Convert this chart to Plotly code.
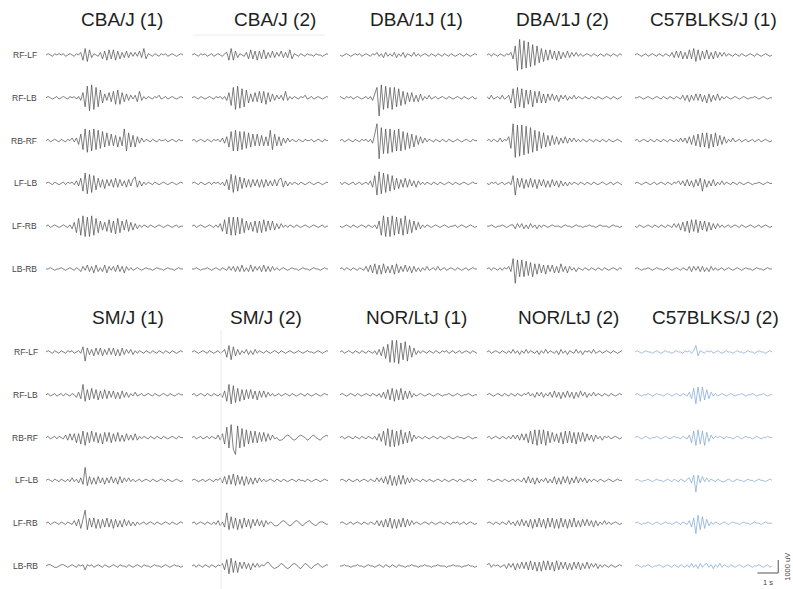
import plotly.graph_objects as go

# ---------------- data ----------------
CHANNELS = ["RF-LF", "RF-LB", "RB-RF", "LF-LB", "LF-RB", "LB-RB"]
TOP_TITLES = ["CBA/J (1)", "CBA/J (2)", "DBA/1J (1)", "DBA/1J (2)", "C57BLKS/J (1)"]
BOTTOM_TITLES = ["SM/J (1)", "SM/J (2)", "NOR/LtJ (1)", "NOR/LtJ (2)", "C57BLKS/J (2)"]
DURATION_S = 6.6          # length of each trace
UNIT_UV = 100             # trace values below are in units of 100 uV
SCALE_T_S = 1
SCALE_V_UV = 1000

cba_j_1 = [
    [0,1,0,-1,1,0,1,0, 1,-1,0,1,0,-1,1,0, 2,-4,5,-5,4,-2,1,0, -1,2,-3,3,-4,4,-3,4, -4,3,-3,2,-2,3,-2,2, -1,2,-1,3,-2,5,-3,1, 0,-1,1,0,-1,1,0,1, -1,0,1,0,-1,0,1,0],
    [0,1,0,-1,0,1,-1,0, 1,0,-1,1,0,1,-1,1, -2,4,-7,9,-10,10,-9,8, -7,6,-4,3,-2,4,-3,5, -5,6,-5,4,-3,3,-2,2, -1,2,-3,5,-2,1,-1,1, 0,-1,1,0,2,-1,0,1, -1,0,1,0,-1,0,1,0],
    [0,1,-1,0,1,0,-1,1, 0,-1,1,0,2,-1,2,-3, 5,-7,9,-9,8,-8,9,-7, 8,-6,7,-5,6,-4,5,-4, 4,-5,3,-4,9,-8,6,-5, 4,-5,3,-2,2,-1,1,0, -1,1,0,-1,1,0,0,1, -1,0,1,0,-1,1,0,0],
    [0,1,0,-1,1,0,-1,0, 1,-1,1,0,1,-1,2,-2, 4,-6,8,-8,7,-7,6,-5, 4,-3,3,-4,3,-2,3,-3, 4,-3,3,-2,2,-3,3,-2, 3,5,-3,2,-2,1,-1,1, 0,-1,1,0,-1,0,1,0, -1,0,1,0,-1,0,1,0],
    [0,1,-1,0,1,0,-1,0, 1,0,-1,1,-2,3,-5,6, -7,8,-8,7,-8,8,-7,6, -5,4,-3,3,-4,5,-5,4, -6,6,-5,4,-3,5,-4,3, -3,2,-2,1,-1,1,0,-1, 1,0,-1,0,1,0,-1,0, 1,0,-1,0,1,-1,0,0],
    [0,0,1,0,-1,0,0,1, 0,-1,0,1,0,-1,1,0, -2,2,-1,3,-2,2,-3,3, -2,1,-2,3,-3,2,-1,2, -2,3,-2,2,-3,2,-1,1, -1,0,1,0,-1,0,1,0, 0,-1,0,1,0,0,-1,0, 1,0,0,-1,0,1,0,0],
]
cba_j_2 = [
    [0,1,0,-1,1,0,1,-1, 0,1,-1,0,1,0,-1,1, 2,-4,5,-4,3,-2,1,0, -1,2,-3,4,-3,3,-4,3, -3,4,-3,2,-2,3,-2,2, -1,3,-2,2,-2,4,-3,1, 0,-1,1,0,-1,1,0,0, -1,1,0,0,-1,0,1,0],
    [0,1,0,-1,1,0,-1,0, 1,0,-1,1,0,1,-1,1, -2,4,-6,8,-9,9,-8,7, -7,6,-4,3,-3,4,-3,5, -4,5,-5,4,-3,3,-2,2, -1,2,-2,5,-2,1,-1,1, 0,-1,1,0,2,-1,0,1, -1,0,1,0,-1,0,1,0],
    [0,1,-1,0,1,0,-1,1, 0,-1,1,0,1,-1,2,-2, 3,-5,7,-8,8,-8,7,-7, 7,-6,6,-5,5,-4,5,-4, 4,-4,3,-4,8,-7,5,-4, 3,-4,2,-2,2,-1,1,0, -1,1,0,-1,1,0,0,1, -1,0,1,0,-1,1,0,0],
    [0,1,0,-1,1,0,-1,0, 1,-1,1,0,1,-1,1,-2, 3,-5,7,-7,6,-6,5,-4, 4,-3,3,-3,3,-2,3,-3, 3,-3,3,-2,2,-2,3,-2, 3,4,-3,2,-2,1,-1,1, 0,-1,1,0,-1,0,1,0, -1,0,1,0,-1,0,1,0],
    [0,1,-1,0,1,0,-1,0, 1,0,-1,1,-1,2,-4,5, -6,7,-7,7,-7,7,-6,6, -5,4,-3,3,-4,4,-5,4, -5,5,-4,4,-3,4,-3,2, -2,2,-1,1,-1,1,0,-1, 1,0,-1,0,1,0,-1,0, 1,0,-1,0,1,-1,0,0],
    [0,0,1,0,-1,0,0,1, 0,-1,0,1,0,-1,1,0, -1,2,-1,2,-2,2,-2,3, -2,1,-2,3,-2,2,-1,2, -2,3,-2,2,-2,2,-1,1, -1,0,1,0,-1,0,1,0, 0,-1,0,1,0,0,-1,0, 1,0,0,-1,0,1,0,0],
]
dba_1j_1 = [
    [0,-1,0,1,0,-1,0,1, 0,1,-1,0,1,0,-1,1, 0,2,-1,1,-2,2,-1,1, -1,2,-2,1,-1,2,-2,1, 0,-1,2,-1,1,-1,0,1, 0,-1,1,0,-1,1,0,-1, 1,0,-1,1,0,-1,0,1, 0,-1,1,0,-1,0,1,0],
    [1,0,-1,1,0,1,-1,0, 1,0,-1,0,1,-1,1,-2, 4,8,-14,10,-9,9,-8,8, -9,8,-7,7,-6,5,-5,4, -3,4,-3,2,-3,3,-2,1, -1,2,-1,0,1,-1,0,1, 0,-1,1,0,-1,0,1,0, -1,1,0,-1,0,1,-1,0],
    [0,1,-1,0,1,0,-1,1, 0,-1,1,0,1,-1,1,-2, 5,13,-14,10,-10,9,-10,9, -9,8,-8,9,-8,7,-7,6, -6,5,-5,4,-3,3,-2,2, -1,1,0,-1,1,0,-1,1, 0,-1,1,0,-1,0,1,0, -1,0,1,0,-1,1,0,0],
    [1,-1,1,0,-1,0,1,-1, 0,1,-1,0,1,-1,2,-3, 6,-9,9,-8,8,-7,7,-6, 6,-5,4,-4,3,-3,4,-3, 3,-2,2,-3,2,-1,1,-1, 1,0,-1,1,0,-1,1,0, -1,0,1,0,-1,1,0,-1, 0,1,0,-1,0,1,0,0],
    [0,-1,0,1,0,-1,1,0, -1,0,1,0,-1,1,0,-1, 1,-2,4,-7,8,-8,7,-8, 8,-7,7,-6,6,-7,8,-6, 5,-5,4,-3,3,-2,1,-1, 1,0,-1,0,1,0,-1,0, 1,0,-1,0,0,1,-1,0, 1,0,-1,0,1,0,-1,0],
    [0,1,-1,1,0,-1,1,0, -1,1,0,-1,2,-2,3,-3, 4,-4,3,-4,4,-3,2,-3, 3,-4,4,-3,2,-2,3,-2, 2,-3,2,-2,1,-2,1,-1, 2,-1,0,1,-1,2,-1,0, 1,-1,0,1,0,-1,1,0, -1,0,1,-1,0,1,0,0],
]
dba_1j_2 = [
    [0,1,-1,1,0,-1,1,0, -1,1,0,2,-3,7,-12,12, -11,11,-10,10,-9,8,-8,7, -6,5,-5,4,-4,4,-3,3, -4,3,-3,2,-2,3,-2,2, -1,2,-1,1,-1,0,1,0, -1,1,0,-1,1,0,-1,1, 0,-1,1,0,-1,1,0,0],
    [1,-1,2,-1,0,1,-1,2, -1,0,2,-4,7,-8,8,-7, 7,-8,6,-5,6,-7,5,-4, 5,-4,3,-4,3,-2,3,-2, 2,-3,2,-1,2,-2,1,-1, 2,-1,1,0,-1,1,0,-1, 1,0,-1,1,0,-1,0,1, 0,-1,1,0,-1,0,1,0],
    [0,1,-1,1,0,-1,2,-1, 1,0,3,-6,13,-13,12,-12, 12,-11,11,-10,10,-9,8,-8, 7,-6,6,-5,4,-4,4,-3, 3,-3,2,-2,3,-2,2,-1, 2,-1,1,-1,1,0,-1,1, 0,-1,1,0,-1,1,0,-1, 1,0,-1,0,1,0,-1,0],
    [0,-1,1,0,1,-1,0,1, -1,0,1,-1,6,-9,4,-3, 4,-4,3,-3,4,-3,3,-4, 3,-2,3,-3,2,-3,3,-2, 2,-3,2,-2,1,-2,1,-1, 1,0,-1,1,0,-1,1,0, -1,1,0,-1,0,1,0,-1, 0,1,-1,0,1,0,-1,0],
    [0,0,1,0,-1,0,0,1, 0,-1,0,1,1,-2,2,-1, 2,-2,1,-2,2,-1,1,-2, 1,-1,1,0,-1,0,1,0, 0,0,-1,0,1,0,0,-1, 0,1,0,0,-1,0,0,1, 0,0,-1,0,1,0,0,0, -1,0,1,0,0,-1,0,1],
    [0,1,-1,1,0,-1,1,-1, 1,0,2,-2,8,-11,7,-6, 7,-6,6,-5,5,-6,4,-4, 4,-3,3,-4,3,-2,3,-3, 2,-3,4,-2,2,-3,2,-1, 1,-2,1,0,-1,1,0,-1, 1,0,-1,1,0,-1,1,0, -1,0,1,0,-1,1,0,0],
]
c57blks_j_1 = [
    [0,1,0,-1,0,1,-1,0, 1,0,-1,1,0,-1,1,0, -1,2,-2,3,-2,3,-3,2, -3,4,-3,5,-5,4,-4,3, -3,4,-3,2,-3,3,-2,2, -1,2,-1,1,0,-1,1,0, -1,1,0,-1,0,1,0,-1, 1,0,-1,0,1,0,-1,0],
    [0,0,1,0,-1,0,1,0, -1,0,1,0,-1,1,0,-1, 1,0,-1,1,0,-1,2,-2, 2,-3,2,-2,3,-2,3,-3, 2,-4,3,-3,2,-2,3,-2, 1,-1,1,0,-1,0,1,0, -1,0,1,0,-1,0,0,1, 0,-1,0,1,0,-1,0,0],
    [0,1,-1,0,1,0,-1,1, 0,-1,1,0,-1,1,0,-1, 1,0,-1,1,-1,2,-1,2, -2,3,-3,4,-4,5,-5,6, -5,6,-6,5,-5,6,-4,4, -3,3,-2,1,-1,2,-1,0, 1,-1,0,1,-1,0,1,-1, 0,1,-1,0,1,0,-1,0],
    [0,1,0,-1,0,1,0,-1, 0,1,-1,0,1,0,-1,1, 0,-1,1,0,2,-1,2,-2, 3,-2,2,-3,3,-2,4,-6, 3,-3,2,-2,3,-2,1,-1, 2,-1,1,0,-1,1,0,-1, 1,0,-1,0,1,0,-1,0, 0,1,0,-1,0,1,0,0],
    [0,-1,1,0,-1,0,1,0, -1,1,0,-1,1,0,-1,1, 0,-1,2,-1,2,-3,3,-4, 4,-5,5,-4,5,-5,4,-3, 4,-4,3,-3,2,-2,2,-1, 1,-1,0,1,-1,0,1,0, -1,1,0,-1,0,1,0,-1, 0,1,-1,0,1,0,-1,0],
    [0,1,0,-1,0,0,1,0, -1,0,1,0,0,-1,0,1, 0,-1,0,1,0,-1,1,0, -1,2,-2,2,-1,2,-2,2, -2,1,-2,2,-1,1,-1,0, 1,-1,0,1,0,-1,0,1, 0,-1,0,1,0,0,-1,0, 1,0,0,-1,0,1,0,0],
]
sm_j_1 = [
    [0,1,0,-1,1,0,-1,1, 0,-1,1,0,1,-1,0,1, -1,4,-7,3,-2,2,-3,3, -2,3,-3,2,-2,3,-2,3, -3,2,-3,3,-2,2,-1,2, -2,1,-1,1,0,-1,1,0, -1,1,0,-1,1,0,-1,1, 0,-1,1,0,-1,0,1,0],
    [0,1,-1,0,1,-1,0,1, -1,1,0,-1,1,0,-2,2, -3,8,-5,4,-4,5,-3,4, -4,3,-3,4,-3,3,-2,3, -3,2,-3,3,-2,2,-2,1, -1,2,-1,0,1,-1,0,1, 0,-1,1,0,-1,0,1,0, -1,1,0,-1,0,1,0,0],
    [0,1,-1,0,1,-1,1,0, -1,2,-2,3,-2,3,-4,3, -5,5,-6,4,-4,5,-3,4, -4,3,-5,4,-3,4,-4,3, -3,4,-3,2,-3,3,-2,2, -2,3,-2,1,-1,1,0,-1, 1,0,-1,1,0,-1,1,0, -1,0,1,0,-1,1,0,0],
    [0,1,0,-1,1,0,-1,1, 0,-1,1,-1,2,-1,1,-2, 2,-3,10,-4,3,-3,2,-3, 3,-2,2,-3,2,-2,3,-2, 2,-3,3,-2,2,-1,2,-1, 1,-1,0,1,-1,0,1,0, -1,1,0,-1,0,1,0,-1, 1,0,-1,0,1,0,-1,0],
    [0,1,-1,0,1,0,-1,1, 0,-1,1,0,-1,2,-2,3, -4,3,10,-5,4,-3,4,-4, 3,-4,3,-3,4,-3,3,-4, 3,-3,2,-3,3,-2,2,-2, 1,-2,1,-1,0,1,-1,0, 1,0,-1,1,0,-1,0,1, 0,-1,1,0,-1,0,1,0],
    [0,1,1,0,-1,-1,0,1, 1,0,-1,0,1,0,-1,1, 0,1,-3,1,0,1,-1,0, 1,0,-1,1,0,-1,0,1, 0,-1,1,0,0,-1,1,0, -1,0,1,0,-1,1,0,0, -1,0,1,0,0,-1,0,1, 0,-1,0,1,0,0,-1,0],
]
sm_j_2 = [
    [0,1,0,-1,0,1,0,-1, 1,0,-1,0,1,-1,0,2, -4,5,-6,4,-3,2,-2,1, -1,2,-2,1,-2,2,-1,1, 0,-1,1,0,-1,0,1,0, -1,1,0,-1,0,1,0,-1, 0,1,0,-1,0,1,0,0, -1,0,1,0,-1,0,1,0],
    [0,1,-1,0,1,0,-1,1, 0,-1,1,0,-1,1,-2,3, -5,8,-7,7,-6,5,-5,4, -4,4,-3,4,-3,3,-4,3, -2,3,-2,2,-1,1,-1,0, 1,-1,0,1,0,-1,1,0, -1,0,1,0,-1,1,0,-1, 0,1,0,-1,0,1,0,0],
    [0,1,-1,0,1,-1,0,1, -1,1,0,-1,2,-2,3,-5, 8,-8,10,-9,-13,9,-8,7, -7,6,-5,5,-4,5,-4,4, -3,4,-3,3,-2,2,-1,0, -2,-2,-1,1,2,1,-1,-2, -1,1,2,1,0,-2,-1,1, 2,0,-1,-2,0,1,2,0],
    [0,1,0,-1,0,1,-1,0, 1,0,-1,1,0,2,-2,3, -3,4,-3,5,-4,4,-3,3, -4,3,-3,2,-3,2,-2,2, -1,1,-1,0,1,0,-1,1, 0,-1,1,0,-1,0,1,0, -1,1,0,0,-1,1,0,-1, 0,1,0,-1,0,1,0,0],
    [0,1,-1,0,1,0,-1,1, 0,-1,1,-1,2,-2,1,-3, 8,-5,5,-4,4,-5,3,-4, 4,-3,3,-4,3,-2,3,-2, 2,-3,2,-1,1,0,-2,-2, -1,1,2,1,-1,-2,-1,1, 2,1,-1,-2,0,1,2,0, -1,-2,0,1,1,0,-1,0],
    [0,1,-1,1,0,-1,1,0, -1,1,0,-1,1,0,2,-3, 5,-6,6,-5,4,-5,3,-2, 3,-2,2,-3,2,-1,2,-1, 1,0,2,3,1,-1,-2,-1, 0,2,1,-1,-2,-1,1,2, 1,-1,-2,0,2,1,-1,-2, 0,1,2,0,-1,0,1,0],
]
nor_ltj_1 = [
    [0,1,-1,0,1,0,-1,1, 0,-1,1,0,-1,1,0,-1, 1,-2,2,-3,4,-5,6,-8, 9,-8,9,-9,7,-6,8,-7, 5,-4,3,-2,1,-1,1,0, -1,1,0,-1,1,0,-1,1, 0,1,-1,0,1,-1,0,1, -1,0,1,0,-1,1,0,-1],
    [0,1,0,-1,0,1,0,-1, 1,0,-1,0,1,0,-1,1, 0,-1,1,-2,2,-3,4,-4, 5,-5,4,-4,5,-4,3,-3, 3,-2,1,-1,0,1,0,-1, 0,1,0,-1,0,1,0,-1, 0,0,1,0,-1,0,1,0, -1,0,0,1,0,-1,0,0],
    [0,1,-1,0,1,0,-1,1, 0,-1,1,0,-1,1,0,-1, 1,-2,3,-3,5,-6,7,-7, 6,-7,5,-6,6,-5,4,-4, 5,-3,2,-1,1,0,-1,1, 0,-1,0,1,0,-1,1,0, -1,0,1,0,-1,0,1,0, 0,-1,0,1,0,-1,0,0],
    [0,1,0,-1,1,0,-1,0, 1,-1,0,1,0,-1,1,0, -1,2,-1,2,-2,3,-3,4, -4,3,-4,4,-3,4,-3,2, -2,2,-1,1,0,-1,1,0, -1,1,0,-1,0,1,0,-1, 1,0,-1,0,1,0,-1,1, 0,-1,0,1,0,-1,1,0],
    [0,1,0,-1,0,1,-1,0, 1,0,-1,1,0,-1,1,0, -1,2,-2,2,-3,3,-3,4, -4,3,-4,3,-3,4,-3,3, -2,2,-1,1,0,-1,0,1, 0,-1,1,0,-1,0,1,0, -1,1,0,-1,1,0,1,-1, 0,1,-1,0,1,0,-1,0],
    [0,0,1,0,0,-1,0,0, 1,0,0,-1,0,1,0,0, -1,0,1,0,-1,1,0,-1, 1,0,-1,1,0,0,-1,0, 0,1,0,0,-1,0,0,1, 0,0,-1,0,0,1,0,0, 0,-1,0,0,1,0,0,0, -1,0,0,1,0,0,-1,0],
]
nor_ltj_2 = [
    [0,1,-1,0,1,0,-1,1, 0,-1,1,-1,2,-1,1,-2, 1,-1,2,-1,1,0,-1,1, -2,1,-1,2,-1,1,0,-1, 1,-2,2,-1,1,-2,1,0, -1,2,-1,1,-2,1,0,1, -1,2,-1,0,1,-1,0,1, 0,-1,1,0,-1,0,1,0],
    [0,1,0,-1,0,1,0,-1, 1,0,-1,1,0,-1,1,0, -1,1,0,2,-1,1,-2,2, -1,2,-2,1,-1,2,-2,3, -2,2,-3,2,-2,3,-2,2, -3,2,-2,3,-1,2,-2,1, -1,2,-1,1,0,-1,1,0, -1,1,0,-1,0,1,0,0],
    [0,1,-1,0,1,0,-1,1, 0,-1,1,-1,2,-1,2,-2, 3,-2,3,-4,5,-5,6,-6, 6,-5,6,-6,5,-4,4,-3, 3,-4,4,-5,5,-4,5,-4, 4,-5,4,-3,4,-3,3,-2, 2,-3,2,-1,1,-2,1,0, 1,-1,0,1,0,-1,0,0],
    [0,1,0,-1,0,1,0,-1, 1,0,-1,0,1,-1,1,0, -1,2,-2,3,-2,2,-3,2, -2,1,-1,2,-2,1,-2,3, -3,2,-3,3,-2,3,-3,2, -2,3,-2,2,-1,2,-2,1, -1,1,0,-1,1,0,-1,0, 1,0,-1,0,1,0,0,0],
    [0,1,0,-1,1,0,-1,1, 0,-1,2,-1,1,-2,2,-2, 3,-2,2,-3,3,-4,3,-3, 4,-3,3,-4,4,-3,4,-4, 3,-4,4,-3,3,-4,3,-3, 4,-3,2,-3,3,-2,3,-2, 2,-3,2,-2,1,-1,2,-1, 1,-1,0,1,0,-1,0,0],
    [1,2,-1,1,0,1,-1,0, 1,-2,2,-1,2,-3,2,-2, 3,-2,3,-3,4,-3,3,-4, 3,-4,4,-3,4,-3,3,-4, 4,-3,3,-2,3,-3,2,-3, 3,-2,3,-3,2,-2,3,-2, 2,-1,2,-2,1,-1,1,0, -1,1,0,-1,0,1,0,0],
]
c57blks_j_2 = [
    [0,1,0,-1,0,1,0,0, -1,0,1,0,-1,0,1,0, 0,-1,0,1,0,0,-1,1, 0,1,-1,1,5,-3,1,0, -1,1,0,1,-1,0,1,0, -1,0,1,0,0,-1,0,1, 0,0,-1,0,1,0,0,-1, 0,1,0,0,-1,0,1,0],
    [0,1,0,-1,0,0,1,0, -1,0,1,0,0,-1,0,1, 0,-1,0,1,0,-1,1,0, -1,2,-3,5,-7,6,-5,6, -4,4,-3,2,-1,1,-1,0, 1,0,-1,0,1,0,-1,0, 0,1,0,-1,0,0,1,0, -1,0,0,1,0,-1,0,0],
    [0,1,0,-1,0,1,0,-1, 0,0,1,0,-1,0,1,0, -1,0,1,0,0,-1,1,0, -1,2,-4,5,-6,6,-5,5, -6,4,-3,2,-1,1,0,1, 0,-1,1,0,0,-1,0,1, 0,-1,0,1,0,0,-1,0, 1,0,-1,0,0,1,0,0],
    [0,1,0,-1,0,0,1,0, -1,0,1,0,0,-1,0,1, 0,-1,1,0,-1,1,0,-1, 1,2,-2,4,-9,4,-2,3, -1,2,-1,1,0,-1,1,0, -1,-1,0,1,0,-1,0,1, 0,0,-1,0,1,0,0,-1, 0,1,0,0,-1,0,1,0],
    [0,1,0,-1,0,0,1,0, -1,0,1,0,-1,0,1,0, 0,-1,0,1,0,-1,1,0, -1,2,-3,4,-8,6,-5,5, -4,3,-2,1,-1,1,0,-1, 0,1,0,-1,0,1,0,0, -1,0,1,0,0,-1,0,1, 0,0,-1,0,1,0,0,0],
    [0,1,0,-1,0,0,1,0, -1,0,0,1,0,-1,0,1, 0,-1,1,0,-1,1,0,-1, 1,-1,2,-1,1,-2,2,-1, 1,2,-1,1,-2,1,-1,2, -1,1,0,-1,1,0,-1,0, 1,0,-1,0,1,0,-1,0, 0,1,0,-1,0,1,-1,0],
]

TOP_DATA = [cba_j_1, cba_j_2, dba_1j_1, dba_1j_2, c57blks_j_1]
BOTTOM_DATA = [sm_j_1, sm_j_2, nor_ltj_1, nor_ltj_2, c57blks_j_2]

# ---------------- layout geometry (pixels) ----------------
W, H = 793, 589
COL_PX = [(46, 183), (192, 328), (340, 477), (487, 622), (635, 772)]
PX_PER_S = 137 / DURATION_S
ROW_GAP_UV = 3300
PX_PER_UV = 42.8 / ROW_GAP_UV
ROW0_PX = [55, 352]
Y_PAD_UV = 1600
TITLE_X_PX = [[122, 275, 417, 562, 713], [128, 266, 417, 568, 715]]
TITLE_Y_PX = [20, 317]
LABEL_X_PX = [39, 40]
BLACK = "#4a4a4a"
BLUE = "#7aa3d3"
FONT = "Liberation Sans, Arial, sans-serif"

fig = go.Figure()
annotations = []
layout_axes = {}

def px_x(p):
    return p / W

def px_y(p):
    return 1 - p / H

n_panel = 0
for r, (titles, data) in enumerate([(TOP_TITLES, TOP_DATA), (BOTTOM_TITLES, BOTTOM_DATA)]):
    y_lo = -(len(CHANNELS) - 1) * ROW_GAP_UV - Y_PAD_UV
    y_hi = Y_PAD_UV
    top_px = ROW0_PX[r] - y_hi * PX_PER_UV
    bot_px = ROW0_PX[r] - y_lo * PX_PER_UV
    for c, (title, panel) in enumerate(zip(titles, data)):
        n_panel += 1
        ax = "" if n_panel == 1 else str(n_panel)
        x0, x1 = COL_PX[c]
        last = (r == 1 and c == 4)
        if last:
            x1 = 788
        color = BLUE if last else BLACK
        for k, vals in enumerate(panel):
            n = len(vals)
            xs = [i * DURATION_S / (n - 1) for i in range(n)]
            ys = [v * UNIT_UV - k * ROW_GAP_UV for v in vals]
            fig.add_trace(go.Scatter(
                x=xs, y=ys, mode="lines",
                line=dict(color=color, width=0.7),
                xaxis="x" + ax, yaxis="y" + ax,
                hoverinfo="skip", showlegend=False))
        layout_axes["xaxis" + ax] = dict(
            domain=[px_x(x0), px_x(x1)], range=[0, (x1 - x0) / PX_PER_S],
            visible=False, fixedrange=True, anchor="y" + ax)
        layout_axes["yaxis" + ax] = dict(
            domain=[max(0, px_y(bot_px)), px_y(top_px)],
            range=[y_lo + max(0, bot_px - H) / PX_PER_UV, y_hi],
            visible=False, fixedrange=True, anchor="x" + ax)
        annotations.append(dict(
            text=title, xref="paper", yref="paper",
            x=px_x(TITLE_X_PX[r][c]), y=px_y(TITLE_Y_PX[r]),
            xanchor="center", yanchor="middle", showarrow=False,
            font=dict(size=19, color="#1e1e1e", family=FONT)))
        if c == 0:
            for k, ch in enumerate(CHANNELS):
                annotations.append(dict(
                    text=ch, xref="paper", yref="y" + ax,
                    x=px_x(LABEL_X_PX[r]), y=-k * ROW_GAP_UV,
                    xanchor="right", yanchor="middle", showarrow=False,
                    font=dict(size=8.5, color="#444444", family=FONT)))
        if last:
            base = -(len(CHANNELS) - 1) * ROW_GAP_UV - 540
            xb = 6.9
            fig.add_trace(go.Scatter(
                x=[xb - SCALE_T_S, xb, xb], y=[base, base, base + SCALE_V_UV],
                mode="lines", line=dict(color="#555555", width=1),
                xaxis="x" + ax, yaxis="y" + ax, hoverinfo="skip", showlegend=False))
            annotations.append(dict(
                text="1 s", xref="x" + ax, yref="y" + ax,
                x=xb - SCALE_T_S / 2, y=base, yshift=-9,
                xanchor="center", yanchor="middle", showarrow=False,
                font=dict(size=7.5, color="#444444", family=FONT)))
            annotations.append(dict(
                text="1000 uV", xref="x" + ax, yref="y" + ax,
                x=xb, y=base + SCALE_V_UV / 2, xshift=9, textangle=-90,
                xanchor="center", yanchor="middle", showarrow=False,
                font=dict(size=7.5, color="#444444", family=FONT)))

shapes = [
    dict(type="line", xref="paper", yref="paper", x0=px_x(193), x1=px_x(325),
         y0=px_y(35), y1=px_y(35), line=dict(color="#ececec", width=1)),
    dict(type="line", xref="paper", yref="paper", x0=px_x(221), x1=px_x(221),
         y0=px_y(330), y1=0, line=dict(color="#ececec", width=1)),
]

fig.update_layout(
    width=W, height=H, margin=dict(l=0, r=0, t=0, b=0),
    paper_bgcolor="white", plot_bgcolor="rgba(0,0,0,0)",
    showlegend=False, annotations=annotations, shapes=shapes,
    **layout_axes)

fig.write_html("out.html",
               config={"displayModeBar": False, "staticPlot": True},
               post_script="document.body.style.margin='0px';document.body.style.overflow='hidden';")
